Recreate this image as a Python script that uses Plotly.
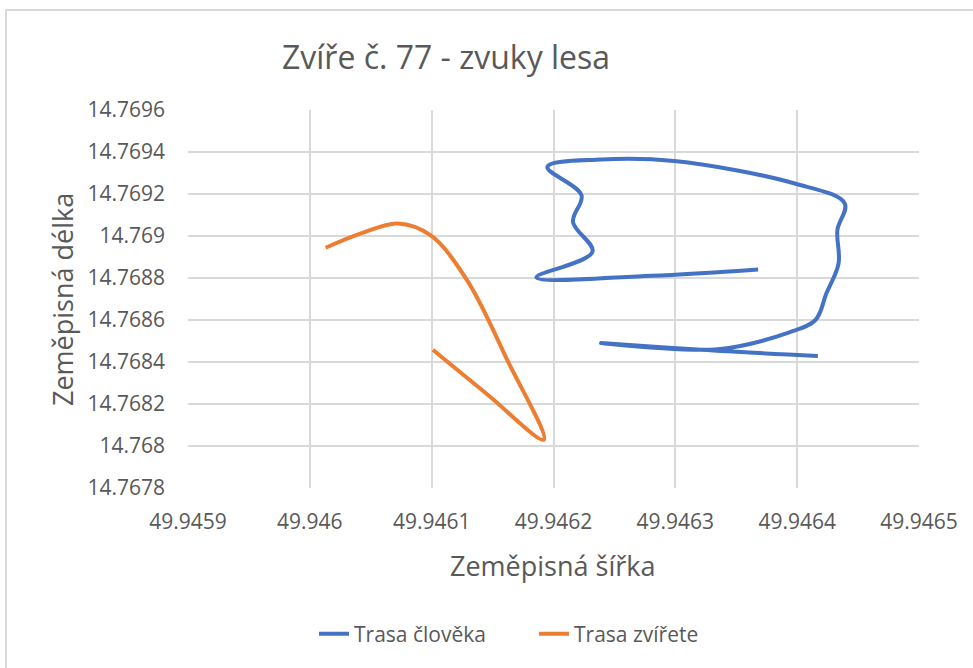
import plotly.graph_objects as go

# Data
human_lat = [49.946368, 49.946280, 49.946186, 49.946232, 49.946216, 49.946223,
             49.946195, 49.946239, 49.946299, 49.946398, 49.946439, 49.946433,
             49.946434, 49.946424, 49.946415, 49.946393, 49.946335, 49.946239,
             49.946321, 49.946417]
human_lon = [14.768841, 14.768811, 14.768803, 14.768925, 14.769067, 14.769194,
             14.769329, 14.769364, 14.769357, 14.769250, 14.769155, 14.769028,
             14.768870, 14.768727, 14.768600, 14.768540, 14.768461, 14.768490,
             14.768458, 14.768429]

animal_lat = [49.946013, 49.946042, 49.946072, 49.946099, 49.946129, 49.946162,
              49.946192, 49.946146, 49.946101]
animal_lon = [14.768944, 14.769012, 14.769060, 14.769004, 14.768790, 14.768410,
              14.768030, 14.768244, 14.768458]

x_ticks = [49.9459, 49.9460, 49.9461, 49.9462, 49.9463, 49.9464, 49.9465]
x_labels = ["49.9459", "49.946", "49.9461", "49.9462", "49.9463", "49.9464", "49.9465"]
y_ticks = [14.7678, 14.7680, 14.7682, 14.7684, 14.7686, 14.7688, 14.7690,
           14.7692, 14.7694, 14.7696]
y_labels = ["14.7678", "14.768", "14.7682", "14.7684", "14.7686", "14.7688",
            "14.769", "14.7692", "14.7694", "14.7696"]

FONT = "Open Sans"
GREY = "#595959"

fig = go.Figure()
fig.add_trace(go.Scatter(x=human_lat, y=human_lon, mode="lines", name="Trasa člověka",
                         line=dict(color="#4472C4", width=4, shape="spline", smoothing=1.0)))
fig.add_trace(go.Scatter(x=animal_lat, y=animal_lon, mode="lines", name="Trasa zvířete",
                         line=dict(color="#ED7D31", width=4, shape="spline", smoothing=1.0)))

L, R, T, B = 188, 54, 110, 180
W, H = 973, 668
pw, ph = W - L - R, H - T - B

def px(xp):
    return (xp - L) / pw

def py(yp):
    return (H - B - yp) / ph

fig.update_layout(
    width=W, height=H,
    margin=dict(l=L, r=R, t=T, b=B),
    paper_bgcolor="white", plot_bgcolor="white",
    font=dict(family=FONT, color=GREY),
    title=dict(text="Zvíře č. 77 - zvuky lesa", x=446 / W, xanchor="center",
               y=1 - 58 / H, yanchor="middle", xref="container", yref="container",
               font=dict(family=FONT, size=32, color=GREY)),
    xaxis=dict(range=[49.9459, 49.9465], tickvals=x_ticks, ticktext=x_labels,
               showgrid=True, gridcolor="#d9d9d9", gridwidth=2, zeroline=False,
               showline=False, ticks="", ticklabelstandoff=19,
               tickfont=dict(family=FONT, size=21, color=GREY)),
    yaxis=dict(range=[14.7678, 14.7696], tickvals=y_ticks, ticktext=y_labels,
               showgrid=True, gridcolor="#d9d9d9", gridwidth=2, zeroline=False,
               showline=False, ticks="", ticklabelstandoff=22,
               tickfont=dict(family=FONT, size=21, color=GREY)),
    showlegend=True,
    legend=dict(orientation="h", x=px(534), xanchor="center", y=py(634), yanchor="middle",
                font=dict(family=FONT, size=21, color=GREY), entrywidth=175,
                bgcolor="rgba(0,0,0,0)"),
    shapes=[dict(type="rect", xref="paper", yref="paper",
                 x0=px(6), x1=px(1000), y0=py(700), y1=py(10),
                 line=dict(color="#d9d9d9", width=2), fillcolor="rgba(0,0,0,0)",
                 layer="below")],
    annotations=[
        dict(text="Zeměpisná šířka", xref="paper", yref="paper", x=px(552), y=py(565),
             xanchor="center", yanchor="middle", showarrow=False,
             font=dict(family=FONT, size=27, color=GREY)),
        dict(text="Zeměpisná délka", xref="paper", yref="paper", x=px(62), y=py(300),
             xanchor="center", yanchor="middle", showarrow=False, textangle=-90,
             font=dict(family=FONT, size=27, color=GREY)),
    ],
)

fig.write_html("out.html", config={"displayModeBar": False},
               post_script="document.body.style.margin='0';document.body.style.padding='0';")
